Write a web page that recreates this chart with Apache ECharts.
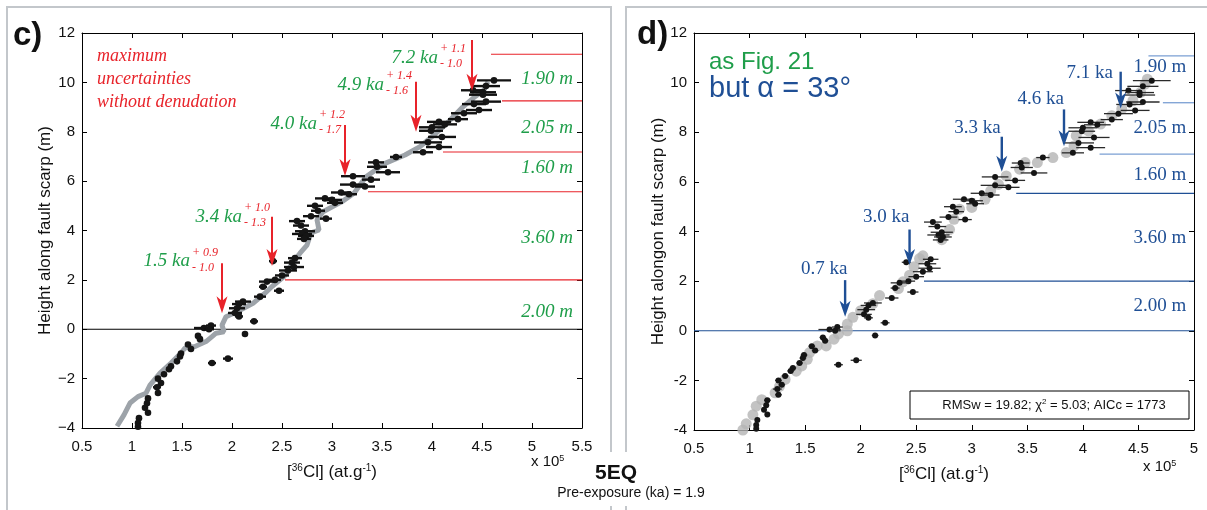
<!DOCTYPE html>
<html><head><meta charset="utf-8">
<script src="https://cdn.jsdelivr.net/npm/echarts@6.0.0/dist/echarts.min.js"></script>
<style>html,body{margin:0;padding:0;background:#fff}#c{width:1207px;height:510px}</style>
</head><body><div id="c"></div><script>
// ---------- DATA ----------
// observations (shared by both panels): [36Cl] x1e5, height (m), half error bar
const obsX = [4.62,4.54,4.41,4.51,4.51,4.54,4.42,4.47,4.32,4.26,4.07,4.13,4.00,3.99,4.10,3.96,4.07,3.91,3.64,3.44,3.45,3.56,3.21,3.39,3.21,3.33,3.09,3.17,2.93,3.00,3.03,2.83,2.86,2.79,2.94,2.65,2.69,2.73,2.70,2.74,2.72,2.63,2.41,2.60,2.62,2.56,2.50,2.43,2.35,2.31,2.47,2.28,2.11,2.07,2.05,2.03,2.07,2.22,1.79,1.72,1.77,2.13,1.66,1.68,1.56,1.59,1.49,1.48,1.45,1.80,1.96,1.39,1.37,1.32,1.26,1.29,1.25,1.26,1.16,1.15,1.13,1.16,1.07,1.06,1.06];
const obsY = [10.08,9.85,9.68,9.60,9.50,9.22,9.12,8.88,8.75,8.51,8.40,8.30,8.18,8.04,7.79,7.57,7.38,7.17,6.98,6.76,6.58,6.36,6.20,6.06,5.86,5.78,5.54,5.47,5.30,5.24,5.12,5.00,4.80,4.58,4.48,4.38,4.20,3.97,3.86,3.78,3.66,2.88,2.76,2.70,2.52,2.38,2.18,2.00,1.93,1.72,1.56,1.32,1.12,1.02,0.85,0.66,0.52,0.32,0.15,0.05,0.00,-0.19,-0.27,-0.40,-0.62,-0.80,-0.98,-1.10,-1.30,-1.37,-1.19,-1.50,-1.62,-1.82,-2.00,-2.18,-2.35,-2.58,-2.80,-3.00,-3.18,-3.38,-3.60,-3.80,-3.95];
const obsErr = [0.17,0.14,0.12,0.13,0.14,0.15,0.12,0.13,0.13,0.10,0.12,0.12,0.13,0.12,0.14,0.14,0.13,0.10,0.06,0.08,0.10,0.12,0.12,0.09,0.13,0.10,0.10,0.08,0.10,0.10,0.08,0.08,0.07,0.08,0.06,0.08,0.08,0.10,0.10,0.08,0.07,0.07,0.04,0.08,0.10,0.09,0.07,0.06,0.08,0.04,0.05,0.06,0.08,0.07,0.08,0.07,0.04,0.04,0.05,0.10,0.05,0.03,0.03,0.03,0.03,0.03,0.03,0.03,0.03,0.04,0.05,0.03,0.03,0.03,0.03,0.03,0.04,0.03,0.03,0.02,0.02,0.02,0.02,0.02,0.02];

// model curve, panel c
const modelCX = [0.85,0.92,0.98,1.06,1.14,1.18,1.28,1.39,1.49,1.53,1.63,1.74,1.80,1.84,1.92,1.90,1.94,2.05,2.21,2.33,2.40,2.52,2.60,2.68,2.75,2.79,2.87,2.85,2.91,3.10,3.22,3.28,3.34,3.53,3.73,3.88,4.04,4.15,4.31,4.43,4.52,4.56];
const modelCY = [-3.93,-3.47,-2.99,-2.73,-2.59,-2.26,-1.78,-1.37,-0.96,-0.76,-0.70,-0.50,-0.30,-0.16,-0.10,0.17,0.51,0.71,1.05,1.46,1.73,2.13,2.67,3.08,3.41,3.90,4.02,4.43,4.76,5.17,5.51,5.84,6.18,6.72,7.06,7.40,7.94,8.34,9.01,9.42,9.69,10.03];

// model points, panel d
const modelDX = [0.94,0.97,1.03,1.06,1.11,1.23,1.27,1.32,1.42,1.47,1.52,1.54,1.61,1.69,1.76,1.80,1.88,1.88,1.93,2.00,2.11,2.17,2.34,2.38,2.44,2.48,2.53,2.56,2.73,2.80,2.84,2.89,3.00,3.12,3.17,3.24,3.31,3.43,3.48,3.59,3.73,3.85,3.92,3.94,4.05,4.16,4.26,4.35,4.45,4.52,4.56,4.58];
const modelDY = [-4.00,-3.75,-3.39,-3.04,-2.78,-2.50,-2.24,-1.96,-1.63,-1.42,-1.15,-0.88,-0.61,-0.61,-0.34,-0.13,0.00,0.27,0.54,0.81,1.09,1.42,1.70,1.97,2.24,2.58,2.91,3.02,3.67,4.08,4.49,4.90,4.97,5.30,5.64,5.90,6.24,6.51,6.78,6.78,6.98,7.18,7.45,7.86,8.06,8.33,8.67,8.94,9.27,9.61,9.94,10.14];

// panel c annotations
const ageC = ['7.2 ka','4.9 ka','4.0 ka','3.4 ka','1.5 ka'];
const agePlusC = ['+ 1.1','+ 1.4','+ 1.2','+ 1.0','+ 0.9'];
const ageMinusC = ['- 1.0','- 1.6','- 1.7','- 1.3','- 1.0'];
const arrowCX = [4.40,3.84,3.13,2.40,1.90];
const arrowCFrom = [11.72,10.03,8.27,4.56,2.67];
const arrowCTo = [9.66,8.00,6.21,2.56,0.65];
const ageCLabelX = [4.06,3.52,2.85,2.10,1.58];
const ageCLabelY = [10.99,9.89,8.31,4.56,2.75];
const segCY = [11.14,9.25,7.18,5.57,2.00];
const segCX0 = [4.59,4.70,4.11,3.36,2.53];
const thickC = ['1.90 m','2.05 m','1.60 m','3.60 m','2.00 m'];
const thickCY = [10.13,8.15,6.53,3.70,0.71];

// panel d annotations
const ageD = ['7.1 ka','4.6 ka','3.3 ka','3.0 ka','0.7 ka'];
const arrowDX = [4.34,3.83,3.27,2.44,1.86];
const arrowDFrom = [10.44,8.92,7.82,4.08,2.04];
const arrowDTo = [8.96,7.44,6.41,2.65,0.56];
const ageDLabelX = [4.27,3.83,3.26,2.44,1.88];
const ageDLabelY = [10.39,9.32,8.19,4.58,2.48];
const segDY = [11.08,9.19,7.12,5.54,2.00];
const segDX0 = [4.59,4.72,4.15,3.40,2.57];
const thickD = ['1.90 m','2.05 m','1.60 m','3.60 m','2.00 m'];
const thickDY = [10.64,8.17,6.27,3.73,0.98];

// ---------- CHART ----------
const SERIF = '"Liberation Serif","Times New Roman",serif';
const SANS = '"Liberation Sans",Arial,Helvetica,sans-serif';
const RED = '#e8232a', GREEN = '#1f9e4a', BLUE = '#1f4f95', LBLUE = '#7b9fd3';

const chart = echarts.init(document.getElementById('c'));

function errItem(lw, color, r) {
  return function (params, api) {
    const x = api.value(0), y = api.value(1), e = api.value(2);
    const a = api.coord([x - e, y]), b = api.coord([x + e, y]), c = api.coord([x, y]);
    return { type: 'group', children: [
      { type: 'line', shape: { x1: a[0], y1: a[1], x2: b[0], y2: b[1] }, style: { stroke: color, lineWidth: lw } },
      { type: 'circle', shape: { cx: c[0], cy: c[1], r: r }, style: { fill: '#151515' } }
    ] };
  };
}
function arrowItem(color, lw, w, L) {
  return function (params, api) {
    const x = api.value(0);
    const a = api.coord([x, api.value(1)]), b = api.coord([x, api.value(2)]);
    return { type: 'group', children: [
      { type: 'line', shape: { x1: a[0], y1: a[1], x2: b[0], y2: b[1] - L * 0.7 }, style: { stroke: color, lineWidth: lw } },
      { type: 'polygon', shape: { points: [[b[0] - w / 2, b[1] - L], [b[0], b[1] - L * 0.72], [b[0] + w / 2, b[1] - L], [b[0], b[1]]] }, style: { fill: color } }
    ] };
  };
}
function segItem(xmax, color, lw) {
  return function (params, api) {
    const a = api.coord([api.value(0), api.value(1)]), b = api.coord([xmax, api.value(1)]);
    return { type: 'line', shape: { x1: a[0], y1: a[1], x2: b[0], y2: b[1] }, style: { stroke: color, lineWidth: lw } };
  };
}
function textItem(labels, style) {
  return function (params, api) {
    const p = api.coord([api.value(0), api.value(1)]);
    return { type: 'text', x: p[0], y: p[1], style: Object.assign({ text: labels[params.dataIndex] }, style) };
  };
}
function ageCItem(params, api) {
  const i = params.dataIndex;
  const p = api.coord([api.value(0), api.value(1)]);
  return { type: 'group', children: [
    { type: 'text', x: p[0], y: p[1], style: { text: ageC[i], fill: GREEN, fontFamily: SERIF, fontStyle: 'italic', fontSize: 19, align: 'right', verticalAlign: 'middle' } },
    { type: 'text', x: p[0] + 2, y: p[1] - 9, style: { text: agePlusC[i], fill: RED, fontFamily: SERIF, fontStyle: 'italic', fontSize: 12, align: 'left', verticalAlign: 'middle' } },
    { type: 'text', x: p[0] + 2, y: p[1] + 6, style: { text: ageMinusC[i], fill: RED, fontFamily: SERIF, fontStyle: 'italic', fontSize: 12, align: 'left', verticalAlign: 'middle' } }
  ] };
}

const tickStyle = { show: true, inside: true, length: 5, lineStyle: { color: '#000', width: 1 } };
const lineStyle = { show: true, onZero: false, lineStyle: { color: '#000', width: 1 } };
const labelStyle = { color: '#111', fontSize: 15, fontFamily: SANS };
const nameRich = { s: { fontSize: 10, fontFamily: SANS, verticalAlign: 'top', padding: [0, 0, 8, 0], color: '#111' } };

function xAx(grid, max, pos) {
  const o = { gridIndex: grid, type: 'value', min: 0.5, max: max, interval: 0.5, position: pos,
    axisLine: lineStyle, axisTick: tickStyle, splitLine: { show: false },
    axisLabel: Object.assign({ show: pos === 'bottom', margin: 11 }, labelStyle) };
  if (pos === 'bottom') {
    o.name = '[{s|36}Cl] (at.g{s|-1})';
    o.nameLocation = 'middle';
    o.nameGap = 35;
    o.nameTextStyle = { fontSize: 17, fontFamily: SANS, color: '#111', rich: nameRich };
  }
  return o;
}
function yAx(grid, pos, name, fmt) {
  const o = { gridIndex: grid, type: 'value', min: -4, max: 12, interval: 2, position: pos,
    axisLine: lineStyle, axisTick: tickStyle, splitLine: { show: false },
    axisLabel: Object.assign({ show: pos === 'left', margin: 7, formatter: fmt }, labelStyle) };
  if (pos === 'left') {
    o.name = name; o.nameLocation = 'middle'; o.nameGap = 24;
    o.nameTextStyle = { fontSize: 17, fontFamily: SANS, color: '#111' };
  }
  return o;
}
const fmtC = v => (v < 0 ? '\u2212' + (-v) : String(v));
const fmtD = v => String(v);

const obsData = obsX.map((x, i) => [x, obsY[i], obsErr[i]]);

const option = {
  animation: false,
  backgroundColor: '#fff',
  grid: [
    { left: 82, top: 33, width: 500, height: 395 },
    { left: 694, top: 33, width: 500, height: 397 }
  ],
  xAxis: [xAx(0, 5.5, 'bottom'), xAx(0, 5.5, 'top'), xAx(1, 5, 'bottom'), xAx(1, 5, 'top')],
  yAxis: [yAx(0, 'left', 'Height along fault scarp (m)', fmtC), yAx(0, 'right', '', fmtC),
          yAx(1, 'left', 'Height alongon fault scarp (m)', fmtD), yAx(1, 'right', '', fmtD)],
  series: [
    // ----- panel c -----
    { type: 'custom', xAxisIndex: 0, yAxisIndex: 0, renderItem: segItem(5.5, '#000', 1.2), data: [[0.5, 0]], z: 1, silent: true },
    { type: 'custom', xAxisIndex: 0, yAxisIndex: 0, renderItem: segItem(5.5, RED, 1.2), data: segCX0.map((x, i) => [x, segCY[i]]), z: 1, silent: true },
    { type: 'line', xAxisIndex: 0, yAxisIndex: 0, data: modelCX.map((x, i) => [x, modelCY[i]]), symbol: 'none', lineStyle: { color: '#9da3a9', width: 5 }, z: 2, silent: true },
    { type: 'custom', xAxisIndex: 0, yAxisIndex: 0, renderItem: errItem(2.4, '#111', 3.3), data: obsData, z: 3, silent: true },
    { type: 'custom', xAxisIndex: 0, yAxisIndex: 0, renderItem: arrowItem(RED, 2, 11, 17), data: arrowCX.map((x, i) => [x, arrowCFrom[i], arrowCTo[i]]), z: 4, clip: false, silent: true },
    { type: 'custom', xAxisIndex: 0, yAxisIndex: 0, renderItem: ageCItem, data: ageCLabelX.map((x, i) => [x, ageCLabelY[i]]), z: 5, clip: false, silent: true },
    { type: 'custom', xAxisIndex: 0, yAxisIndex: 0, renderItem: textItem(thickC, { fill: GREEN, fontFamily: SERIF, fontStyle: 'italic', fontSize: 19, align: 'right', verticalAlign: 'middle' }), data: thickCY.map(y => [5.41, y]), z: 5, silent: true },
    // ----- panel d -----
    { type: 'custom', xAxisIndex: 2, yAxisIndex: 2, renderItem: segItem(5, BLUE, 1.2), data: [[0.5, 0]], z: 1, silent: true },
    { type: 'custom', xAxisIndex: 2, yAxisIndex: 2, renderItem: function (p, api) { const f = segItem(5, p.dataIndex < 3 ? LBLUE : BLUE, 1.3); return f(p, api); }, data: segDX0.map((x, i) => [x, segDY[i]]), z: 1, silent: true },
    { type: 'scatter', xAxisIndex: 2, yAxisIndex: 2, data: modelDX.map((x, i) => [x, modelDY[i]]), symbol: 'circle', symbolSize: 11, itemStyle: { color: '#b4b4b4' }, z: 2, silent: true },
    { type: 'custom', xAxisIndex: 2, yAxisIndex: 2, renderItem: errItem(1.3, '#2a2a2a', 3), data: obsData, z: 3, silent: true },
    { type: 'custom', xAxisIndex: 2, yAxisIndex: 2, renderItem: arrowItem(BLUE, 2.4, 11, 16), data: arrowDX.map((x, i) => [x, arrowDFrom[i], arrowDTo[i]]), z: 4, clip: false, silent: true },
    { type: 'custom', xAxisIndex: 2, yAxisIndex: 2, renderItem: textItem(ageD, { fill: BLUE, fontFamily: SERIF, fontSize: 19, align: 'right', verticalAlign: 'middle' }), data: ageDLabelX.map((x, i) => [x, ageDLabelY[i]]), z: 5, clip: false, silent: true },
    { type: 'custom', xAxisIndex: 2, yAxisIndex: 2, renderItem: textItem(thickD, { fill: BLUE, fontFamily: SERIF, fontSize: 19, align: 'right', verticalAlign: 'middle' }), data: thickDY.map(y => [4.93, y]), z: 5, silent: true }
  ],
  graphic: [
    // panel frames
    { type: 'polyline', shape: { points: [[7, 515], [7, 7], [611, 7], [611, 452]] }, style: { stroke: '#c3c7cb', lineWidth: 2, fill: null }, silent: true },
    { type: 'polyline', shape: { points: [[611, 506], [611, 515]] }, style: { stroke: '#c3c7cb', lineWidth: 2, fill: null }, silent: true },
    { type: 'polyline', shape: { points: [[626, 452], [626, 7], [1215, 7]] }, style: { stroke: '#c3c7cb', lineWidth: 2, fill: null }, silent: true },
    { type: 'polyline', shape: { points: [[626, 506], [626, 515]] }, style: { stroke: '#c3c7cb', lineWidth: 2, fill: null }, silent: true },
    // panel letters
    { type: 'text', x: 13, y: 36, style: { text: 'c)', fill: '#111', font: 'bold 33px ' + SANS, verticalAlign: 'middle' }, silent: true },
    { type: 'text', x: 637, y: 35, style: { text: 'd)', fill: '#111', font: 'bold 33px ' + SANS, verticalAlign: 'middle' }, silent: true },
    // panel c note
    { type: 'text', x: 97, y: 45, style: { text: 'maximum\nuncertainties\nwithout denudation', fill: RED, font: 'italic 18px ' + SERIF, lineHeight: 23, verticalAlign: 'top' }, silent: true },
    // panel d note
    { type: 'text', x: 709, y: 62, style: { text: 'as Fig. 21', fill: GREEN, font: '24px ' + SANS, verticalAlign: 'middle' }, silent: true },
    { type: 'text', x: 709, y: 89, style: { text: 'but \u03b1 = 33\u00b0', fill: BLUE, font: '29px ' + SANS, verticalAlign: 'middle' }, silent: true },
    // x 10^5
    { type: 'text', x: 531, y: 462, style: { text: 'x 10{s|5}', fill: '#111', font: '15px ' + SANS, verticalAlign: 'middle', rich: { s: { fontSize: 9, fontFamily: SANS, verticalAlign: 'top', padding: [0, 0, 7, 0] } } }, silent: true },
    { type: 'text', x: 1143, y: 467, style: { text: 'x 10{s|5}', fill: '#111', font: '15px ' + SANS, verticalAlign: 'middle', rich: { s: { fontSize: 9, fontFamily: SANS, verticalAlign: 'top', padding: [0, 0, 7, 0] } } }, silent: true },
    // titles
    { type: 'text', x: 616, y: 473, style: { text: '5EQ', fill: '#111', font: 'bold 21px ' + SANS, align: 'center', verticalAlign: 'middle' }, silent: true },
    { type: 'text', x: 631, y: 493, style: { text: 'Pre-exposure (ka) = 1.9', fill: '#111', font: '14px ' + SANS, align: 'center', verticalAlign: 'middle' }, silent: true },
    // RMS box
    { type: 'rect', shape: { x: 910, y: 391, width: 279, height: 28 }, style: { fill: '#fff', stroke: '#000', lineWidth: 1 }, silent: true, z: 10 },
    { type: 'text', x: 1054, y: 405, z: 11, style: { text: 'RMSw = 19.82; \u03c7{s|2} = 5.03; AICc = 1773', fill: '#111', font: '13px ' + SANS, align: 'center', verticalAlign: 'middle', rich: { s: { fontSize: 8, fontFamily: SANS, verticalAlign: 'top', padding: [0, 0, 6, 0] } } }, silent: true }
  ]
};
chart.setOption(option);
</script></body></html>
